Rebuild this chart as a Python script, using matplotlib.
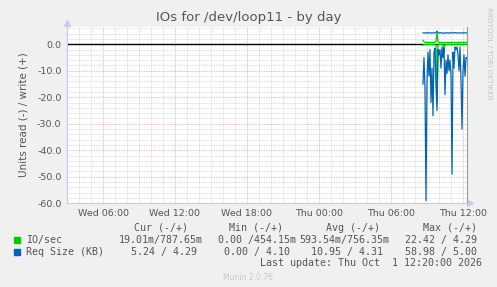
import pandas as pd
import matplotlib
matplotlib.use("Agg")
import matplotlib.pyplot as plt
import matplotlib.dates as mdates
from matplotlib.patches import Rectangle
from matplotlib.ticker import MultipleLocator, FuncFormatter

# sample times (5 min steps, Thu Oct 1 2026)
times = pd.date_range("2026-10-01 08:40", "2026-10-01 12:20", freq="5min")

# IO/sec (read shown below zero, write above)
io_read = [0.3, 0.1, 0.05, 0.1, 0.05, 0.02, 0.05, 0.03, 0.1, 0.05, 0.2, 0.03, 0.02,
           0.5, 22.42, 0.3, 0.05, 0.02, 0.1, 0.02, 0.05, 2.3, 0.1, 0.05, 0.1, 0.03,
           0.05, 0.02, 0.05, 0.2, 0.02, 0.05, 0.02, 0.02, 0.03, 0.05, 0.1, 0.02,
           0.05, 0.2, 0.05, 0.03, 0.05, 0.02, 0.019]
io_write = [1.5, 0.9, 0.75, 0.7, 0.72, 0.68, 0.7, 0.65, 0.7, 0.72, 0.69, 0.7, 0.75,
            1.2, 4.29, 0.9, 0.7, 0.68, 0.7, 0.66, 0.7, 0.454, 0.72, 0.7, 0.69, 0.7,
            0.71, 0.68, 0.7, 0.72, 0.7, 0.69, 0.7, 0.7, 0.68, 0.72, 0.7, 0.69, 0.7,
            0.71, 0.7, 0.72, 0.7, 0.75, 0.788]

# Req Size (KB)
req_read = [15, 5, 17, 58.98, 14, 3, 12, 2, 22, 9, 27, 3, 1.5, 16, 25, 2, 4, 2, 9,
            1, 5, 1.5, 19, 6, 11, 4, 10, 6, 12, 49, 3, 9, 1, 2, 1, 4, 10, 1, 14,
            32, 10, 4, 12, 5, 5.24]
req_write = [4.3, 4.25, 4.35, 4.2, 4.3, 4.4, 4.25, 4.3, 4.2, 4.35, 4.3, 4.25, 4.3,
             4.4, 5.0, 4.3, 4.2, 4.35, 4.3, 4.25, 4.3, 4.1, 4.3, 4.35, 4.25, 4.3,
             4.2, 4.3, 4.35, 4.3, 4.25, 4.3, 4.4, 4.3, 4.2, 4.3, 4.35, 4.25, 4.3,
             4.3, 4.2, 4.35, 4.3, 4.25, 4.29]

# legend table
labels = ["IO/sec", "Req Size (KB)"]
colors = ["#00CC00", "#0066B3"]
cur = [("19.01m", "787.65m"), ("5.24", "4.29")]
mins = [("0.00", "454.15m"), ("0.00", "4.10")]
avgs = [("593.54m", "756.35m"), ("10.95", "4.31")]
maxs = [("22.42", "4.29"), ("58.98", "5.00")]

W, H = 497, 287
TXT = "#555555"

fig = plt.figure(figsize=(W / 100, H / 100), dpi=100, facecolor="#F0F0F0")
left, right, top, bottom = 67, 467, 26.5, 203.3
ax = fig.add_axes([left / W, 1 - bottom / H, (right - left) / W, (bottom - top) / H])
ax.set_facecolor("white")

ax.axhline(0, color="black", lw=1.0, zorder=2)
ax.plot(times, [-v for v in io_read], color=colors[0], lw=0.9, zorder=3)
ax.plot(times, io_write, color=colors[0], lw=0.9, zorder=3)
ax.plot(times, [-v for v in req_read], color=colors[1], lw=0.9, zorder=4)
ax.plot(times, req_write, color=colors[1], lw=0.9, zorder=4)

ax.set_xlim(pd.Timestamp("2026-09-30 03:00"), pd.Timestamp("2026-10-01 12:20"))
ax.set_ylim(-60, 6.7)

ax.xaxis.set_major_locator(mdates.HourLocator(byhour=[0, 6, 12, 18]))
ax.xaxis.set_minor_locator(mdates.HourLocator())
ax.xaxis.set_major_formatter(mdates.DateFormatter("%a %H:%M"))
ax.yaxis.set_major_locator(MultipleLocator(10))
ax.yaxis.set_minor_locator(MultipleLocator(2))
ax.yaxis.set_major_formatter(FuncFormatter(lambda v, p: "%.1f" % v))

ax.grid(which="minor", color="#d4d4d4", ls=(0, (1, 1)), lw=0.6, zorder=0)
ax.grid(which="major", color="#e8a8a8", ls=(0, (1, 1)), lw=0.6, zorder=1)
ax.set_axisbelow(True)

ax.tick_params(which="both", length=0, labelsize=6.8, labelcolor=TXT)
ax.tick_params(axis="y", pad=4)
ax.tick_params(axis="x", pad=4)

ax.spines["top"].set_visible(False)
ax.spines["left"].set_color("#c8c8f4")
ax.spines["bottom"].set_color("#c8c8f4")
ax.spines["right"].set_color("#999999")
ax.plot([0], [1.02], marker="^", ms=4, color="#c8c8f4", transform=ax.transAxes, clip_on=False)
ax.plot([1.008], [0], marker=">", ms=4, color="#c8c8f4", transform=ax.transAxes, clip_on=False)

ax.set_ylabel("Units read (-) / write (+)", fontsize=7.5, color=TXT, labelpad=6)


def fx(x):
    return x / W


def fy(y):
    return 1 - y / H


fig.text(fx(249), fy(18), "IOs for /dev/loop11 - by day", ha="center", va="center",
         fontsize=9.5, color=TXT)
fig.text(fx(489), fy(53), "RRDTOOL / TOBI OETIKER", rotation=270, ha="center",
         va="center", fontsize=5.2, color="#c4c4c4")
fig.text(fx(248), fy(277), "Munin 2.0.76", ha="center", va="center", fontsize=5.5,
         color="#c8c8c8")

mono = dict(family="DejaVu Sans Mono", fontsize=7.2, color=TXT, va="center")
for hdr, cx in zip(["Cur (-/+)", "Min (-/+)", "Avg (-/+)", "Max (-/+)"], [161, 256, 353, 450]):
    fig.text(fx(cx), fy(228), hdr, ha="center", **mono)


def cell(neg, pos):
    ns = neg if neg.endswith("m") else neg + " "
    ps = pos if pos.endswith("m") else pos.rjust(5) + " "
    return ns + "/" + ps


col_ends = [203, 296, 389.3, 482.7]
for r, (lab, col) in enumerate(zip(labels, colors)):
    y = 240 + 12 * r
    fig.add_artist(Rectangle((fx(14), fy(y + 3)), 6 / W, 6 / H, color=col,
                             transform=fig.transFigure))
    fig.text(fx(26.5), fy(y), lab, ha="left", **mono)
    for vals, xe in zip([cur, mins, avgs, maxs], col_ends):
        fig.text(fx(xe), fy(y), cell(*vals[r]), ha="right", **mono)

fig.text(fx(482.3), fy(263), "Last update: Thu Oct  1 12:20:00 2026", ha="right", **mono)

fig.savefig("out.png", dpi=100, facecolor=fig.get_facecolor())
